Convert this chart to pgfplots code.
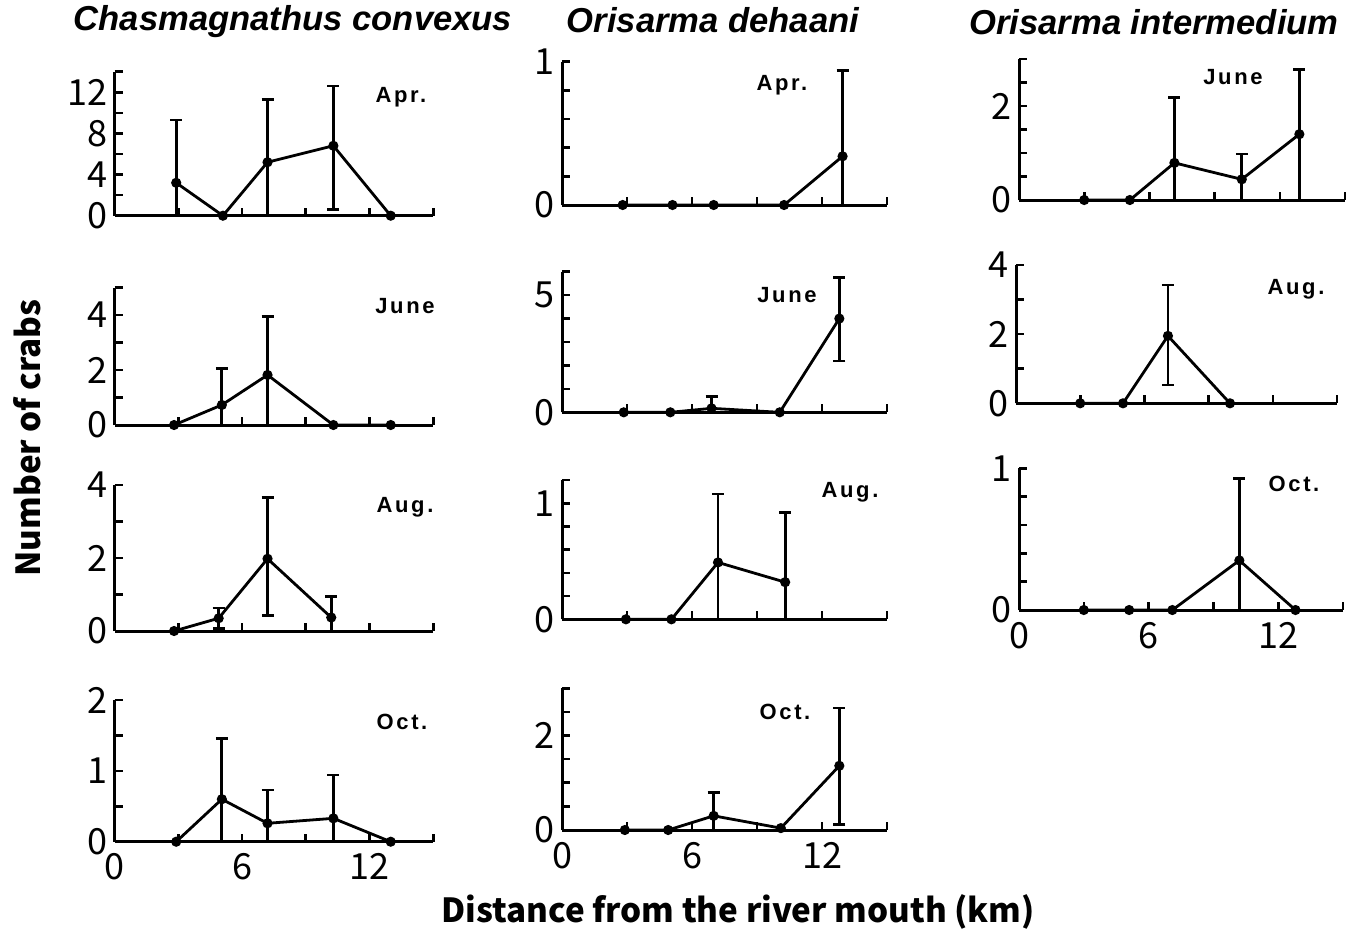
\documentclass[border=0pt]{standalone}
\usepackage{fontspec}
\setmainfont{Noto Sans CJK JP}
\newfontfamily\titlefont{Liberation Sans}
\newfontfamily\monthfont{Liberation Sans}[LetterSpace=12]
\usepackage{pgfplots}
\pgfplotsset{compat=1.18}

\pgfplotsset{
  panel/.style={
    scale only axis,
    axis lines*=left,
    xmin=0, xmax=15, ymin=0,
    enlargelimits=false,
    clip=false,
    axis line style={line width=1.5pt},
    every tick/.style={line width=1.3pt, black},
    major tick length=4pt, minor tick length=4pt,
    tick align=inside,
    xtick={0,3,...,15},
    xticklabels={},
    /pgf/number format/assume math mode=true,
    ticklabel style={font=\fontsize{18}{18}\selectfont},
    yticklabel style={xshift=0pt},
    xticklabel style={yshift=-2.5pt},
  },
  bottom/.style={xticklabels={0,,6,,12,}},
  crabs/.style={
    black, line width=1.4pt, mark=*, mark size=1.8pt,
    error bars/.cd, y dir=both, y explicit,
    error bar style={line width=1.4pt},
    error mark options={rotate=90, line width=1.3pt, mark size=3pt},
  },
}
\newcommand\monthlabel[2]{\node[font=\monthfont\bfseries\fontsize{11}{11}\selectfont] at (#1) {#2};}

\begin{document}
\begin{tikzpicture}
\useasboundingbox (0,0) rectangle (679.5pt,-466.5pt);

% Chasmagnathus convexus
\begin{axis}[panel, at={(57.3pt,-107.85pt)}, anchor=south west,
  width=159.3pt, height=72pt, ymax=14, ytick={0,4,8,12}, minor ytick={2,6,10,14}]
\addplot[crabs] coordinates {
  (2.9,3.2) += (0,6.1) -= (0,3.2)
  (5.1,0)
  (7.2,5.2) += (0,6.1) -= (0,5.2)
  (10.3,6.8) += (0,5.8) -= (0,6.2)
  (13.0,0)
};
\end{axis}
\begin{axis}[panel, at={(57.3pt,-212.5pt)}, anchor=south west,
  width=159.3pt, height=68.75pt, ymax=5, ytick={0,2,4}, minor ytick={1,3,5}]
\addplot[crabs] coordinates {
  (2.8,0)
  (5.05,0.73) += (0,1.33) -= (0,0.73)
  (7.2,1.82) += (0,2.12) -= (0,1.82)
  (10.3,0)
  (13.0,0)
};
\end{axis}
\begin{axis}[panel, at={(57.3pt,-315.5pt)}, anchor=south west,
  width=159.3pt, height=73pt, ymax=4, ytick={0,2,4}, minor ytick={1,3}]
\addplot[crabs] coordinates {
  (2.8,0)
  (4.9,0.35) += (0,0.28) -= (0,0.28)
  (7.2,1.98) += (0,1.68) -= (0,1.56)
  (10.2,0.37) += (0,0.57) -= (0,0.37)
};
\end{axis}
\begin{axis}[panel, bottom, at={(57.3pt,-420.85pt)}, anchor=south west,
  width=159.3pt, height=70.85pt, ymax=2, ytick={0,1,2}, minor ytick={0.5,1.5}]
\addplot[crabs] coordinates {
  (2.9,0)
  (5.05,0.6) += (0,0.86) -= (0,0.6)
  (7.2,0.26) += (0,0.47) -= (0,0.26)
  (10.3,0.33) += (0,0.61) -= (0,0.33)
  (13.0,0)
};
\end{axis}

% Orisarma dehaani
\begin{axis}[panel, at={(281pt,-102.5pt)}, anchor=south west,
  width=162.5pt, height=71.65pt, ymax=1, ytick={0,1}, minor ytick={0.2,0.4,0.6,0.8}]
\addplot[crabs] coordinates {
  (2.8,0) (5.1,0) (7.0,0) (10.25,0)
  (12.95,0.34) += (0,0.6) -= (0,0.34)
};
\end{axis}
\begin{axis}[panel, at={(281pt,-206.15pt)}, anchor=south west,
  width=162.5pt, height=70.3pt, ymax=6, ytick={0,5}, minor ytick={1,2,3,4,6}]
\addplot[crabs] coordinates {
  (2.85,0) (5.0,0)
  (6.9,0.17) += (0,0.51) -= (0,0.17)
  (10.05,0)
  (12.8,4.0) += (0,1.76) -= (0,1.81)
};
\end{axis}
\begin{axis}[panel, at={(281pt,-309.65pt)}, anchor=south west,
  width=162.5pt, height=69.65pt, ymax=1.2, ytick={0,1}, minor ytick={0.2,0.4,0.6,0.8,1.2}]
\addplot[crabs] coordinates {
  (2.95,0) (5.05,0)
  (7.2,0.49) += (0,0.59) -= (0,0.49)
  (10.3,0.32) += (0,0.6) -= (0,0.32)
};
\end{axis}
\begin{axis}[panel, bottom, at={(281pt,-415pt)}, anchor=south west,
  width=162.5pt, height=70.85pt, ymax=3, ytick={0,2}, minor ytick={0.5,1,1.5,2.5,3}]
\addplot[crabs] coordinates {
  (2.9,0) (4.9,0)
  (7.0,0.3) += (0,0.49) -= (0,0.3)
  (10.1,0.04)
  (12.8,1.36) += (0,1.22) -= (0,1.24)
};
\end{axis}

% Orisarma intermedium
\begin{axis}[panel, at={(509.5pt,-100pt)}, anchor=south west,
  width=163pt, height=70.5pt, ymax=3, ytick={0,2}, minor ytick={0.5,1,1.5,2.5,3}]
\addplot[crabs] coordinates {
  (3.0,0) (5.1,0)
  (7.15,0.79) += (0,1.39) -= (0,0.79)
  (10.25,0.44) += (0,0.54) -= (0,0.44)
  (12.9,1.40) += (0,1.38) -= (0,1.40)
};
\end{axis}
\begin{axis}[panel, at={(508pt,-201.65pt)}, anchor=south west,
  width=160.5pt, height=69.15pt, ymax=4, ytick={0,2,4}, minor ytick={1,3}]
\addplot[crabs] coordinates {
  (3.0,0) (5.0,0)
  (7.1,1.95) += (0,1.47) -= (0,1.42)
  (10.0,0)
};
\end{axis}
\begin{axis}[panel, bottom, at={(509.5pt,-305pt)}, anchor=south west,
  width=162pt, height=70.85pt, ymax=1, ytick={0,1}, minor ytick={0.2,0.4,0.6,0.8}]
\addplot[crabs] coordinates {
  (3.0,0) (5.1,0) (7.1,0)
  (10.2,0.35) += (0,0.58) -= (0,0.35)
  (12.8,0)
};
\end{axis}

\monthlabel{200.5pt,-48.5pt}{Apr.}
\monthlabel{202.5pt,-153pt}{June}
\monthlabel{202.5pt,-253.5pt}{Aug.}
\monthlabel{201pt,-361pt}{Oct.}
\monthlabel{391pt,-42.5pt}{Apr.}
\monthlabel{393.5pt,-147.5pt}{June}
\monthlabel{425pt,-246pt}{Aug.}
\monthlabel{392.5pt,-356pt}{Oct.}
\monthlabel{616.5pt,-38.5pt}{June}
\monthlabel{648pt,-144.5pt}{Aug.}
\monthlabel{647pt,-242pt}{Oct.}

\node[font=\titlefont\bfseries\itshape\fontsize{17.3}{17.3}\selectfont] at (146.5pt,-11pt) {Chasmagnathus convexus};
\node[font=\titlefont\bfseries\itshape\fontsize{17.3}{17.3}\selectfont] at (356.5pt,-10pt) {Orisarma dehaani};
\node[font=\titlefont\bfseries\itshape\fontsize{17.3}{17.3}\selectfont] at (577pt,-11pt) {Orisarma intermedium};
\node[font=\bfseries\fontsize{16.6}{16.6}\selectfont, rotate=90] at (13.5pt,-219pt) {Number of crabs};
\node[font=\bfseries\fontsize{16.6}{16.6}\selectfont] at (369pt,-456pt) {Distance from the river mouth (km)};
\end{tikzpicture}
\end{document}
